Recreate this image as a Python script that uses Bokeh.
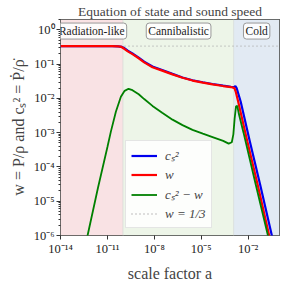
import numpy as np
from bokeh.plotting import figure
from bokeh.models import (BoxAnnotation, Label, FixedTicker, CustomJSTickFormatter,
                          Legend, LegendItem, Range1d)
from bokeh.embed import file_html
from bokeh.resources import INLINE

# ---- data (log10 values) ----
w_loga = [-14.0, -12.0, -10.7, -10.3, -10.1, -9.9, -9.7, -9.4, -9.0, -8.65, -8.12, -7.5, -6.84,
          -6.2, -5.56, -4.9, -4.28, -3.6, -3.1, -2.88, -2.80, -2.64, -2.06, -1.40, -0.66, -0.5]
w_logy = [-0.477, -0.477, -0.478, -0.485, -0.50, -0.56, -0.63, -0.71, -0.83, -0.95, -1.09, -1.19, -1.30,
          -1.40, -1.48, -1.54, -1.59, -1.64, -1.67, -1.70, -1.80, -2.10, -3.25, -4.51, -6.0, -6.3]

cs2_loga = [-14.0, -12.0, -10.7, -10.3, -10.1, -9.9, -9.7, -9.4, -9.0, -8.65, -8.12, -7.5, -6.84,
            -6.2, -5.56, -4.9, -4.28, -3.6, -3.1, -2.9, -2.82, -2.74, -2.48, -1.90, -1.24, -0.49, -0.35]
cs2_logy = [-0.477, -0.477, -0.477, -0.482, -0.495, -0.54, -0.61, -0.69, -0.81, -0.93, -1.07, -1.17, -1.285,
            -1.39, -1.47, -1.53, -1.58, -1.63, -1.66, -1.67, -1.64, -1.70, -2.10, -3.25, -4.51, -6.0, -6.3]

diff_loga = [-12.4, -12.27, -11.6, -11.0, -10.78, -10.46, -10.14, -9.9, -9.65, -9.4, -9.0, -8.65, -8.12,
             -7.5, -6.84, -6.2, -5.56, -4.9, -4.28, -3.6, -3.25, -3.05, -2.95, -2.87, -2.78, -2.70,
             -2.60, -2.3, -1.52, -0.74, -0.58]
diff_logy = [-6.3, -6.0, -4.6, -3.42, -2.97, -2.39, -1.95, -1.78, -1.72, -1.76, -1.88, -2.02, -2.22,
             -2.42, -2.62, -2.78, -2.92, -3.03, -3.13, -3.24, -3.32, -3.28, -3.05, -2.60, -2.23, -2.22,
             -2.45, -3.0, -4.51, -6.0, -6.3]

region_names = ["Radiation-like", "Cannibalistic", "Cold"]
region_log_edges = [-14.0, -10.0, -2.93, 0.0]
region_label_logx = [-12.0, -6.45, -1.46]
region_colors = ["#f9e2e4", "#edf5e8", "#e2eaf3"]

w_ref = 1.0 / 3.0
x_major_exp = [-14, -11, -8, -5, -2]
y_major_exp = [-6, -5, -4, -3, -2, -1, 0]

SERIF = "Liberation Serif"

p = figure(width=284, height=284, x_axis_type="log", y_axis_type="log",
           x_range=Range1d(1e-14, 1.0), y_range=Range1d(1e-6, 2.0),
           output_backend="svg", toolbar_location=None,
           min_border_left=60, min_border_right=5, min_border_top=19, min_border_bottom=39)

p.title.text = "Equation of state and sound speed"
p.title.align = "center"
p.title.text_font = SERIF
p.title.text_font_size = "13.5px"
p.title.text_font_style = "normal"
p.title.offset = 0
p.title.standoff = 2

p.background_fill_color = "white"
p.border_fill_color = "white"
p.outline_line_color = "black"
p.outline_line_width = 1
p.xgrid.visible = False
p.ygrid.visible = False

for i in range(3):
    p.add_layout(BoxAnnotation(left=10 ** region_log_edges[i], right=10 ** region_log_edges[i + 1],
                               fill_color=region_colors[i], fill_alpha=1.0,
                               line_color="#d8dcd8", line_alpha=0.6, line_width=1, level="underlay"))

# reference line w = 1/3
ref = p.line([1e-14, 1.0], [w_ref, w_ref], line_color="#aaaaaa", line_dash="1 3", line_width=1.3)

blue = p.line(10 ** np.array(cs2_loga), 10 ** np.array(cs2_logy), line_color="#0000ee", line_width=2.2)
red = p.line(10 ** np.array(w_loga), 10 ** np.array(w_logy), line_color="#ff0000", line_width=2.2)
green = p.line(10 ** np.array(diff_loga), 10 ** np.array(diff_logy), line_color="#008000", line_width=1.8)

for name, lx in zip(region_names, region_label_logx):
    p.add_layout(Label(x=10 ** lx, y=0.92, text=name, text_align="center", text_baseline="middle",
                       text_font=SERIF, text_font_size="11.5px", text_color="#222222",
                       background_fill_color="white", background_fill_alpha=0.85,
                       border_line_color="#999999", border_line_width=1, padding=2, border_radius=3))

fmt = CustomJSTickFormatter(code="""
const e = Math.round(Math.log10(tick));
const sup = {'-':'\u207b','0':'\u2070','1':'\u00b9','2':'\u00b2','3':'\u00b3','4':'\u2074',
             '5':'\u2075','6':'\u2076','7':'\u2077','8':'\u2078','9':'\u2079'};
return '10' + String(e).split('').map(c => sup[c]).join('');
""")

yminor = [m * 10.0 ** e for e in range(-6, 1) for m in range(2, 10)]
p.xaxis.ticker = FixedTicker(ticks=[10.0 ** e for e in x_major_exp], minor_ticks=[])
p.yaxis.ticker = FixedTicker(ticks=[10.0 ** e for e in y_major_exp], minor_ticks=yminor)
for ax in (p.xaxis[0], p.yaxis[0]):
    ax.formatter = fmt
    ax.major_label_text_font = SERIF
    ax.major_label_text_font_size = "12.5px"
    ax.major_label_text_color = "#222222"
    ax.axis_label_text_font = SERIF
    ax.axis_label_text_font_size = "16px"
    ax.axis_label_text_font_style = "normal"
    ax.axis_line_color = None
    ax.major_tick_line_color = "#333333"
    ax.minor_tick_line_color = "#333333"
    ax.major_tick_out = 4
    ax.major_tick_in = 0
    ax.minor_tick_out = 2
    ax.minor_tick_in = 0
    ax.major_label_standoff = 2

p.xaxis.axis_label = "scale factor a"
p.xaxis.axis_label_standoff = 6
p.yaxis.axis_label = "w = P/\u03c1 and c\u209b\u00b2 = \u1e56/\u03c1\u0307"
p.yaxis.axis_label_standoff = 4

legend = Legend(items=[LegendItem(label="c\u209b\u00b2", renderers=[blue]),
                       LegendItem(label="w", renderers=[red]),
                       LegendItem(label="c\u209b\u00b2 \u2212 w", renderers=[green]),
                       LegendItem(label="w = 1/3", renderers=[ref])],
                location=(65, 7), glyph_width=26, glyph_height=17, label_height=17,
                label_text_font=SERIF, label_text_font_size="13px", label_text_font_style="italic",
                spacing=2, padding=5, margin=0, label_standoff=8,
                background_fill_color="white", background_fill_alpha=0.85,
                border_line_color="#cccccc", border_line_width=1)
p.add_layout(legend, "center")

open("out.html", "w").write(file_html(p, INLINE))
